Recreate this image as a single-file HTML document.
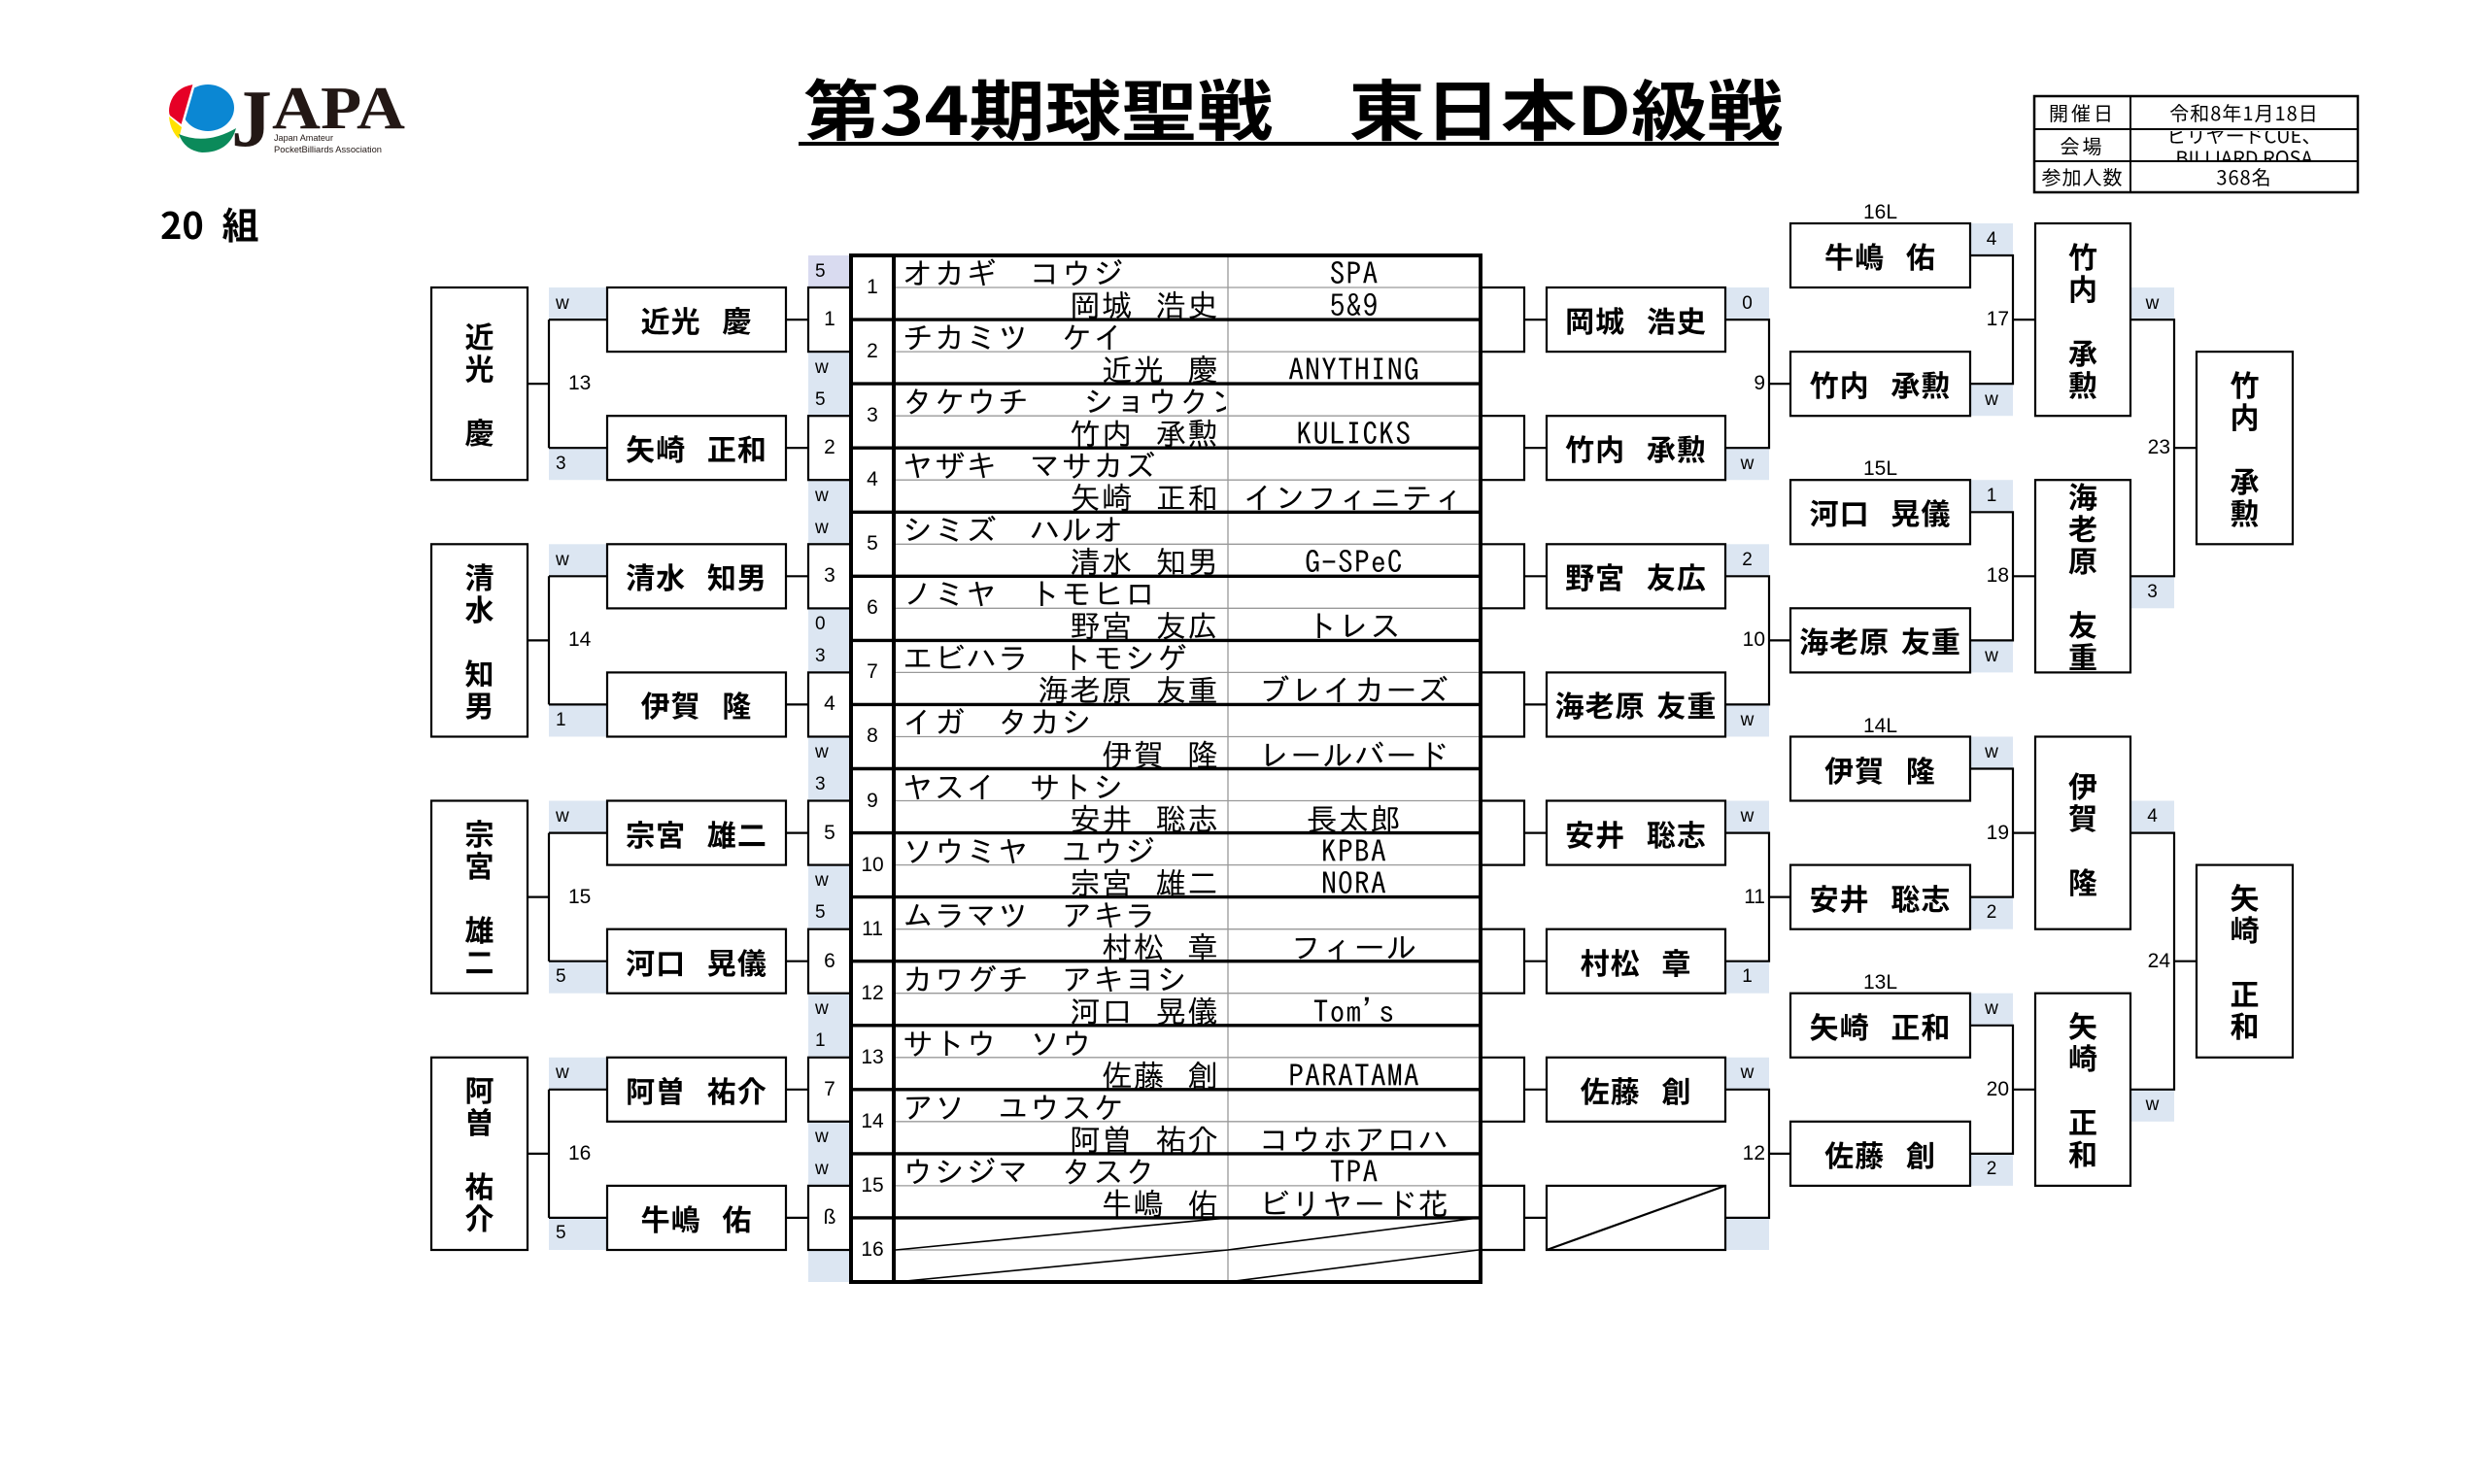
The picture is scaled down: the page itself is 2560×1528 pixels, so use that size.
<!DOCTYPE html>
<html><head><meta charset="utf-8">
<style>
html,body{margin:0;padding:0}
body{width:2560px;height:1528px;position:relative;background:#fff;overflow:hidden}
svg.g{position:absolute;left:0;top:0}
.c{position:absolute;display:flex;align-items:center;justify-content:center;white-space:nowrap}
.l{justify-content:flex-start}
.rr{justify-content:flex-end}
.nm{font-family:"Noto Sans CJK JP","Liberation Sans",sans-serif;font-weight:700;font-size:30px;letter-spacing:1px;word-spacing:14px;color:#000;line-height:1}
.vt{position:absolute;display:flex;flex-direction:column;align-items:center;justify-content:center;font-family:"Noto Sans CJK JP",sans-serif;font-weight:700;font-size:30px;color:#000}
.vt span{display:block;height:33px;line-height:33px}
.sc{font-family:"Liberation Sans",sans-serif;font-size:19px;color:#000}
.lb{font-family:"Liberation Sans",sans-serif;font-size:21px;color:#000}
.num{font-family:"Liberation Sans",sans-serif;font-size:21px;color:#000}
.tb{position:absolute;font-family:"IPAGothic","Noto Sans CJK JP",monospace;font-size:31.5px;letter-spacing:1.2px;word-spacing:6px;line-height:33px;height:33px;white-space:nowrap;overflow:hidden;color:#000}
.r{text-align:right}
.ct{text-align:center}
.info{font-family:"Noto Sans CJK JP","Liberation Sans",sans-serif;font-size:20px;color:#000;line-height:1}
</style></head><body>

<svg class="g" width="2560" height="1528" viewBox="0 0 2560 1528" xmlns="http://www.w3.org/2000/svg">
<!-- logo -->
<ellipse cx="214" cy="111" rx="27" ry="24" fill="#0b87d3"/>
<path d="M199 87 Q180 90 175 107 Q173 115 175 119 L188 129 Z" fill="#e60026"/>
<path d="M200 86 L187 131" stroke="#fff" stroke-width="2.5"/>
<path d="M174 120 L187 131 L184 143 Q175 134 174 120 Z" fill="#ffe100"/>
<path d="M184 138 Q212 150 243 132 Q236 157 208 157 Q190 155 184 138 Z" fill="#0b8a5a"/>
<text x="238" y="150" font-family="Liberation Serif" font-weight="bold" font-size="84" fill="#231815">J</text>
<text x="280" y="132" font-family="Liberation Serif" font-weight="bold" font-size="62" fill="#231815" textLength="137" lengthAdjust="spacingAndGlyphs">APA</text>
<text x="282" y="145" font-family="Liberation Sans" font-size="9.5" fill="#231815" textLength="61" lengthAdjust="spacingAndGlyphs">Japan Amateur</text>
<text x="282" y="157" font-family="Liberation Sans" font-size="9.5" fill="#231815" textLength="111" lengthAdjust="spacingAndGlyphs">PocketBilliards Association</text>

<!-- info table -->
<rect x="2094" y="99" width="333" height="99" fill="#fff" stroke="#000" stroke-width="2.5"/>
<path d="M2193 99V198 M2094 133H2427 M2094 166H2427" stroke="#000" stroke-width="2" fill="none"/>

<!-- shaded cells -->
<g fill="#dce6f2">
<rect x="832" y="263" width="44" height="1057"/>
<rect x="565" y="296" width="60" height="33.1"/><rect x="565" y="461.2" width="60" height="33"/>
<rect x="565" y="560.3" width="60" height="33"/><rect x="565" y="725.4" width="60" height="33.1"/>
<rect x="565" y="824.5" width="60" height="33.1"/><rect x="565" y="989.7" width="60" height="33"/>
<rect x="565" y="1088.8" width="60" height="33"/><rect x="565" y="1253.9" width="60" height="33.1"/>
<rect x="1776" y="296" width="45" height="33.1"/><rect x="1776" y="461.2" width="45" height="33"/>
<rect x="1776" y="560.3" width="45" height="33"/><rect x="1776" y="725.4" width="45" height="33.1"/>
<rect x="1776" y="824.5" width="45" height="33.1"/><rect x="1776" y="989.7" width="45" height="33"/>
<rect x="1776" y="1088.8" width="45" height="33"/><rect x="1776" y="1253.9" width="45" height="33.1"/>
<rect x="2028" y="230" width="44" height="33"/><rect x="2028" y="395.1" width="44" height="33.1"/>
<rect x="2028" y="494.2" width="44" height="33.1"/><rect x="2028" y="659.4" width="44" height="33"/>
<rect x="2028" y="758.5" width="44" height="33"/><rect x="2028" y="923.6" width="44" height="33.1"/>
<rect x="2028" y="1022.7" width="44" height="33.1"/><rect x="2028" y="1187.9" width="44" height="33"/>
<rect x="2193" y="296" width="45" height="33.1"/><rect x="2193" y="593.3" width="45" height="33"/>
<rect x="2193" y="824.5" width="45" height="33.1"/><rect x="2193" y="1121.8" width="45" height="33"/>
</g>
<rect x="832" y="263" width="44" height="33" fill="#d9dbf0"/>

<!-- boxes -->
<g fill="#fff" stroke="#000" stroke-width="2.2">
<rect x="444" y="296" width="99" height="198.2"/><rect x="444" y="560.3" width="99" height="198.2"/>
<rect x="444" y="824.5" width="99" height="198.2"/><rect x="444" y="1088.8" width="99" height="198.2"/>
<rect x="625" y="296" width="184" height="66.1"/><rect x="625" y="428.2" width="184" height="66"/>
<rect x="625" y="560.3" width="184" height="66.1"/><rect x="625" y="692.4" width="184" height="66.1"/>
<rect x="625" y="824.5" width="184" height="66.1"/><rect x="625" y="956.7" width="184" height="66"/>
<rect x="625" y="1088.8" width="184" height="66"/><rect x="625" y="1220.9" width="184" height="66.1"/>
<rect x="832" y="296" width="44" height="66.1"/><rect x="832" y="428.2" width="44" height="66"/>
<rect x="832" y="560.3" width="44" height="66.1"/><rect x="832" y="692.4" width="44" height="66.1"/>
<rect x="832" y="824.5" width="44" height="66.1"/><rect x="832" y="956.7" width="44" height="66"/>
<rect x="832" y="1088.8" width="44" height="66"/><rect x="832" y="1220.9" width="44" height="66.1"/>
<rect x="1592" y="296" width="184" height="66.1"/><rect x="1592" y="428.2" width="184" height="66"/>
<rect x="1592" y="560.3" width="184" height="66.1"/><rect x="1592" y="692.4" width="184" height="66.1"/>
<rect x="1592" y="824.5" width="184" height="66.1"/><rect x="1592" y="956.7" width="184" height="66"/>
<rect x="1592" y="1088.8" width="184" height="66"/><rect x="1592" y="1220.9" width="184" height="66.1"/>
<rect x="1843" y="362.1" width="185" height="66.1"/><rect x="1843" y="626.3" width="185" height="66.1"/>
<rect x="1843" y="890.6" width="185" height="66.1"/><rect x="1843" y="1154.8" width="185" height="66.1"/>
<rect x="1843" y="230" width="185" height="66"/><rect x="1843" y="494.2" width="185" height="66.1"/>
<rect x="1843" y="758.5" width="185" height="66"/><rect x="1843" y="1022.7" width="185" height="66.1"/>
<rect x="2095" y="230" width="98" height="198.2"/><rect x="2095" y="494.2" width="98" height="198.2"/>
<rect x="2095" y="758.5" width="98" height="198.2"/><rect x="2095" y="1022.7" width="98" height="198.2"/>
<rect x="2261" y="362.1" width="99" height="198.2"/><rect x="2261" y="890.6" width="99" height="198.2"/>
</g>

<!-- connectors -->
<path fill="none" stroke="#000" stroke-width="2.2" d="
M543 395.1H565 M565 329.1V461.2 M565 329.1H625 M565 461.2H625 M809 329.1H832 M809 461.2H832
M543 659.4H565 M565 593.3V725.4 M565 593.3H625 M565 725.4H625 M809 593.3H832 M809 725.4H832
M543 923.6H565 M565 857.6V989.7 M565 857.6H625 M565 989.7H625 M809 857.6H832 M809 989.7H832
M543 1187.9H565 M565 1121.8V1253.9 M565 1121.8H625 M565 1253.9H625 M809 1121.8H832 M809 1253.9H832
M1524 296H1569V362.1H1524 M1569 329.1H1592 M1524 428.2H1569V494.2H1524 M1569 461.2H1592
M1524 560.3H1569V626.3H1524 M1569 593.3H1592 M1524 692.4H1569V758.5H1524 M1569 725.4H1592
M1524 824.5H1569V890.6H1524 M1569 857.6H1592 M1524 956.7H1569V1022.7H1524 M1569 989.7H1592
M1524 1088.8H1569V1154.8H1524 M1569 1121.8H1592 M1524 1220.9H1569V1287H1524 M1569 1253.9H1592
M1776 329.1H1821V461.2H1776 M1821 395.1H1843
M1776 593.3H1821V725.4H1776 M1821 659.4H1843
M1776 857.6H1821V989.7H1776 M1821 923.6H1843
M1776 1121.8H1821V1253.9H1776 M1821 1187.9H1843
M2028 263H2072V395.1H2028 M2072 329.1H2095
M2028 527.3H2072V659.4H2028 M2072 593.3H2095
M2028 791.5H2072V923.6H2028 M2072 857.6H2095
M2028 1055.8H2072V1187.9H2028 M2072 1121.8H2095
M2193 329.1H2238V593.3H2193 M2238 461.2H2261
M2193 857.6H2238V1121.8H2193 M2238 989.7H2261
M1592 1287L1776 1220.9
"/>

<!-- main table -->
<path fill="none" stroke="#999" stroke-width="1.3" d="
M1264 263V1320
M920 296H1524 M920 362.1H1524 M920 428.2H1524 M920 494.2H1524
M920 560.3H1524 M920 626.3H1524 M920 692.4H1524 M920 758.5H1524
M920 824.5H1524 M920 890.6H1524 M920 956.7H1524 M920 1022.7H1524
M920 1088.8H1524 M920 1154.8H1524 M920 1220.9H1524 M920 1287H1524"/>
<path fill="none" stroke="#000" stroke-width="1.6" d="
M922 1287L1264 1253.9 M922 1320L1264 1287 M1264 1287L1522 1253.9 M1264 1320L1522 1287"/>
<path fill="none" stroke="#000" stroke-width="3.4" d="
M876 329.1H1524 M876 395.1H1524 M876 461.2H1524 M876 527.3H1524
M876 593.3H1524 M876 659.4H1524 M876 725.4H1524 M876 791.5H1524
M876 857.6H1524 M876 923.6H1524 M876 989.7H1524 M876 1055.8H1524
M876 1121.8H1524 M876 1187.9H1524 M876 1253.9H1524"/>
<path fill="none" stroke="#000" stroke-width="4" d="M920 263V1320"/>
<rect x="876" y="263" width="648" height="1057" fill="none" stroke="#000" stroke-width="4"/>
</svg>

<!-- title -->
<div style="position:absolute;left:827px;top:76px;font-family:'Noto Sans CJK JP',sans-serif;font-weight:700;font-size:68px;line-height:68px;white-space:nowrap;transform:scaleX(1.15);transform-origin:0 0;color:#000">第34期球聖戦　東日本D級戦</div>
<div style="position:absolute;left:822px;top:146px;width:1009px;height:4px;background:#000"></div>
<div style="position:absolute;left:165px;top:211px;font-family:'Noto Sans CJK JP',sans-serif;font-weight:700;font-size:38px;line-height:38px;word-spacing:10px;white-space:nowrap;color:#000">20 組</div>

<!-- info table text -->
<div class="c info" style="left:2094px;top:99px;width:99px;height:34px;letter-spacing:3px">開催日</div>
<div class="c info" style="left:2094px;top:133px;width:99px;height:33px;letter-spacing:3px">会場</div>
<div class="c info" style="left:2094px;top:166px;width:99px;height:32px;letter-spacing:1px">参加人数</div>
<div class="c info" style="left:2193px;top:99px;width:234px;height:34px;letter-spacing:1px">令和8年1月18日</div>
<div class="c info" style="left:2195px;top:135px;width:230px;height:30px;overflow:hidden;flex-direction:column;line-height:23px">
<div>ビリヤードCUE、</div><div>BILLIARD ROSA</div></div>
<div class="c info" style="left:2193px;top:166px;width:234px;height:32px;letter-spacing:1px">368名</div>

<!-- left vertical names -->
<div class="vt" style="left:444px;top:296px;width:99px;height:198px"><span>近</span><span>光</span><span></span><span>慶</span></div>
<div class="vt" style="left:444px;top:560.3px;width:99px;height:198px"><span>清</span><span>水</span><span></span><span>知</span><span>男</span></div>
<div class="vt" style="left:444px;top:824.5px;width:99px;height:198px"><span>宗</span><span>宮</span><span></span><span>雄</span><span>二</span></div>
<div class="vt" style="left:444px;top:1088.8px;width:99px;height:198px"><span>阿</span><span>曽</span><span></span><span>祐</span><span>介</span></div>

<!-- left names -->
<div class="c nm" style="left:625px;top:296px;width:184px;height:66px">近光 慶</div>
<div class="c nm" style="left:625px;top:428.2px;width:184px;height:66px">矢崎 正和</div>
<div class="c nm" style="left:625px;top:560.3px;width:184px;height:66px">清水 知男</div>
<div class="c nm" style="left:625px;top:692.4px;width:184px;height:66px">伊賀 隆</div>
<div class="c nm" style="left:625px;top:824.5px;width:184px;height:66px">宗宮 雄二</div>
<div class="c nm" style="left:625px;top:956.7px;width:184px;height:66px">河口 晃儀</div>
<div class="c nm" style="left:625px;top:1088.8px;width:184px;height:66px">阿曽 祐介</div>
<div class="c nm" style="left:625px;top:1220.9px;width:184px;height:66px">牛嶋 佑</div>

<!-- left scores -->
<div class="c l sc" style="left:572px;top:296px;height:33px">w</div>
<div class="c l sc" style="left:572px;top:461.2px;height:33px">3</div>
<div class="c l sc" style="left:572px;top:560.3px;height:33px">w</div>
<div class="c l sc" style="left:572px;top:725.4px;height:33px">1</div>
<div class="c l sc" style="left:572px;top:824.5px;height:33px">w</div>
<div class="c l sc" style="left:572px;top:989.7px;height:33px">5</div>
<div class="c l sc" style="left:572px;top:1088.8px;height:33px">w</div>
<div class="c l sc" style="left:572px;top:1253.9px;height:33px">5</div>
<div class="c l lb" style="left:585px;top:378.6px;height:33px">13</div>
<div class="c l lb" style="left:585px;top:642.9px;height:33px">14</div>
<div class="c l lb" style="left:585px;top:907.1px;height:33px">15</div>
<div class="c l lb" style="left:585px;top:1171.4px;height:33px">16</div>

<!-- table left column scores -->
<div class="c l sc" style="left:839px;top:263px;height:33px">5</div>
<div class="c l sc" style="left:839px;top:362.1px;height:33px">w</div>
<div class="c l sc" style="left:839px;top:395.1px;height:33px">5</div>
<div class="c l sc" style="left:839px;top:494.2px;height:33px">w</div>
<div class="c l sc" style="left:839px;top:527.3px;height:33px">w</div>
<div class="c l sc" style="left:839px;top:626.3px;height:33px">0</div>
<div class="c l sc" style="left:839px;top:659.4px;height:33px">3</div>
<div class="c l sc" style="left:839px;top:758.5px;height:33px">w</div>
<div class="c l sc" style="left:839px;top:791.5px;height:33px">3</div>
<div class="c l sc" style="left:839px;top:890.6px;height:33px">w</div>
<div class="c l sc" style="left:839px;top:923.6px;height:33px">5</div>
<div class="c l sc" style="left:839px;top:1022.7px;height:33px">w</div>
<div class="c l sc" style="left:839px;top:1055.8px;height:33px">1</div>
<div class="c l sc" style="left:839px;top:1154.8px;height:33px">w</div>
<div class="c l sc" style="left:839px;top:1187.9px;height:33px">w</div>

<!-- table left boxes -->
<div class="c num" style="left:832px;top:296px;width:44px;height:66px">1</div>
<div class="c num" style="left:832px;top:428.2px;width:44px;height:66px">2</div>
<div class="c num" style="left:832px;top:560.3px;width:44px;height:66px">3</div>
<div class="c num" style="left:832px;top:692.4px;width:44px;height:66px">4</div>
<div class="c num" style="left:832px;top:824.5px;width:44px;height:66px">5</div>
<div class="c num" style="left:832px;top:956.7px;width:44px;height:66px">6</div>
<div class="c num" style="left:832px;top:1088.8px;width:44px;height:66px">7</div>
<div class="c num" style="left:832px;top:1220.9px;width:44px;height:66px">ß</div>

<!-- table row numbers -->
<div class="c num" style="left:876px;top:263px;width:44px;height:66px">1</div>
<div class="c num" style="left:876px;top:329.1px;width:44px;height:66px">2</div>
<div class="c num" style="left:876px;top:395.1px;width:44px;height:66px">3</div>
<div class="c num" style="left:876px;top:461.2px;width:44px;height:66px">4</div>
<div class="c num" style="left:876px;top:527.3px;width:44px;height:66px">5</div>
<div class="c num" style="left:876px;top:593.3px;width:44px;height:66px">6</div>
<div class="c num" style="left:876px;top:659.4px;width:44px;height:66px">7</div>
<div class="c num" style="left:876px;top:725.4px;width:44px;height:66px">8</div>
<div class="c num" style="left:876px;top:791.5px;width:44px;height:66px">9</div>
<div class="c num" style="left:876px;top:857.6px;width:44px;height:66px">10</div>
<div class="c num" style="left:876px;top:923.6px;width:44px;height:66px">11</div>
<div class="c num" style="left:876px;top:989.7px;width:44px;height:66px">12</div>
<div class="c num" style="left:876px;top:1055.8px;width:44px;height:66px">13</div>
<div class="c num" style="left:876px;top:1121.8px;width:44px;height:66px">14</div>
<div class="c num" style="left:876px;top:1187.9px;width:44px;height:66px">15</div>
<div class="c num" style="left:876px;top:1253.9px;width:44px;height:66px">16</div>

<!-- table kana -->
<div class="tb" style="left:929px;top:265px;width:333px">オカギ　コウジ</div>
<div class="tb" style="left:929px;top:331.1px;width:333px">チカミツ　ケイ</div>
<div class="tb" style="left:929px;top:397.1px;width:333px">タケウチ　 ショウクン</div>
<div class="tb" style="left:929px;top:463.2px;width:333px">ヤザキ　マサカズ</div>
<div class="tb" style="left:929px;top:529.3px;width:333px">シミズ　ハルオ</div>
<div class="tb" style="left:929px;top:595.3px;width:333px">ノミヤ　トモヒロ</div>
<div class="tb" style="left:929px;top:661.4px;width:333px">エビハラ　トモシゲ</div>
<div class="tb" style="left:929px;top:727.4px;width:333px">イガ　タカシ</div>
<div class="tb" style="left:929px;top:793.5px;width:333px">ヤスイ　サトシ</div>
<div class="tb" style="left:929px;top:859.6px;width:333px">ソウミヤ　ユウジ</div>
<div class="tb" style="left:929px;top:925.6px;width:333px">ムラマツ　アキラ</div>
<div class="tb" style="left:929px;top:991.7px;width:333px">カワグチ　アキヨシ</div>
<div class="tb" style="left:929px;top:1057.8px;width:333px">サトウ　ソウ</div>
<div class="tb" style="left:929px;top:1123.8px;width:333px">アソ　ユウスケ</div>
<div class="tb" style="left:929px;top:1189.9px;width:333px">ウシジマ　タスク</div>

<!-- table kanji -->
<div class="tb r" style="left:920px;top:298px;width:335px">岡城 浩史</div>
<div class="tb r" style="left:920px;top:364.1px;width:335px">近光 慶</div>
<div class="tb r" style="left:920px;top:430.2px;width:335px">竹内 承勲</div>
<div class="tb r" style="left:920px;top:496.2px;width:335px">矢崎 正和</div>
<div class="tb r" style="left:920px;top:562.3px;width:335px">清水 知男</div>
<div class="tb r" style="left:920px;top:628.3px;width:335px">野宮 友広</div>
<div class="tb r" style="left:920px;top:694.4px;width:335px">海老原 友重</div>
<div class="tb r" style="left:920px;top:760.5px;width:335px">伊賀 隆</div>
<div class="tb r" style="left:920px;top:826.5px;width:335px">安井 聡志</div>
<div class="tb r" style="left:920px;top:892.6px;width:335px">宗宮 雄二</div>
<div class="tb r" style="left:920px;top:958.7px;width:335px">村松 章</div>
<div class="tb r" style="left:920px;top:1024.7px;width:335px">河口 晃儀</div>
<div class="tb r" style="left:920px;top:1090.8px;width:335px">佐藤 創</div>
<div class="tb r" style="left:920px;top:1156.8px;width:335px">阿曽 祐介</div>
<div class="tb r" style="left:920px;top:1222.9px;width:335px">牛嶋 佑</div>

<!-- table clubs -->
<div class="tb ct" style="left:1264px;top:265px;width:260px">SPA</div>
<div class="tb ct" style="left:1264px;top:298px;width:260px">5&amp;9</div>
<div class="tb ct" style="left:1264px;top:364.1px;width:260px">ANYTHING</div>
<div class="tb ct" style="left:1264px;top:430.2px;width:260px">KULICKS</div>
<div class="tb ct" style="left:1264px;top:496.2px;width:260px">インフィニティ</div>
<div class="tb ct" style="left:1264px;top:562.3px;width:260px">G-SPeC</div>
<div class="tb ct" style="left:1264px;top:628.3px;width:260px">トレス</div>
<div class="tb ct" style="left:1264px;top:694.4px;width:260px">ブレイカーズ</div>
<div class="tb ct" style="left:1264px;top:760.5px;width:260px">レールバード</div>
<div class="tb ct" style="left:1264px;top:826.5px;width:260px">長太郎</div>
<div class="tb ct" style="left:1264px;top:859.6px;width:260px">KPBA</div>
<div class="tb ct" style="left:1264px;top:892.6px;width:260px">NORA</div>
<div class="tb ct" style="left:1264px;top:958.7px;width:260px">フィール</div>
<div class="tb ct" style="left:1264px;top:1024.7px;width:260px">Tom's</div>
<div class="tb ct" style="left:1264px;top:1090.8px;width:260px">PARATAMA</div>
<div class="tb ct" style="left:1264px;top:1156.8px;width:260px">コウホアロハ</div>
<div class="tb ct" style="left:1264px;top:1189.9px;width:260px">TPA</div>
<div class="tb ct" style="left:1264px;top:1222.9px;width:260px">ビリヤード花</div>

<!-- right round 1 names -->
<div class="c nm" style="left:1592px;top:296px;width:184px;height:66px">岡城 浩史</div>
<div class="c nm" style="left:1592px;top:428.2px;width:184px;height:66px">竹内 承勲</div>
<div class="c nm" style="left:1592px;top:560.3px;width:184px;height:66px">野宮 友広</div>
<div class="c nm" style="left:1592px;top:692.4px;width:184px;height:66px;word-spacing:4px">海老原 友重</div>
<div class="c nm" style="left:1592px;top:824.5px;width:184px;height:66px">安井 聡志</div>
<div class="c nm" style="left:1592px;top:956.7px;width:184px;height:66px">村松 章</div>
<div class="c nm" style="left:1592px;top:1088.8px;width:184px;height:66px">佐藤 創</div>

<!-- right round 1 scores and labels -->
<div class="c sc" style="left:1776px;top:296px;width:45px;height:33px">0</div>
<div class="c sc" style="left:1776px;top:461.2px;width:45px;height:33px">w</div>
<div class="c sc" style="left:1776px;top:560.3px;width:45px;height:33px">2</div>
<div class="c sc" style="left:1776px;top:725.4px;width:45px;height:33px">w</div>
<div class="c sc" style="left:1776px;top:824.5px;width:45px;height:33px">w</div>
<div class="c sc" style="left:1776px;top:989.7px;width:45px;height:33px">1</div>
<div class="c sc" style="left:1776px;top:1088.8px;width:45px;height:33px">w</div>
<div class="c rr lb" style="left:1757px;top:378.6px;width:60px;height:33px">9</div>
<div class="c rr lb" style="left:1757px;top:642.9px;width:60px;height:33px">10</div>
<div class="c rr lb" style="left:1757px;top:907.1px;width:60px;height:33px">11</div>
<div class="c rr lb" style="left:1757px;top:1171.4px;width:60px;height:33px">12</div>

<!-- winners / losers -->
<div class="c nm" style="left:1843px;top:362.1px;width:185px;height:66px">竹内 承勲</div>
<div class="c nm" style="left:1843px;top:626.3px;width:185px;height:66px;word-spacing:4px">海老原 友重</div>
<div class="c nm" style="left:1843px;top:890.6px;width:185px;height:66px">安井 聡志</div>
<div class="c nm" style="left:1843px;top:1154.8px;width:185px;height:66px">佐藤 創</div>
<div class="c nm" style="left:1843px;top:230px;width:185px;height:66px">牛嶋 佑</div>
<div class="c nm" style="left:1843px;top:494.2px;width:185px;height:66px">河口 晃儀</div>
<div class="c nm" style="left:1843px;top:758.5px;width:185px;height:66px">伊賀 隆</div>
<div class="c nm" style="left:1843px;top:1022.7px;width:185px;height:66px">矢崎 正和</div>
<div class="c lb" style="left:1843px;top:205px;width:185px;height:28px">16L</div>
<div class="c lb" style="left:1843px;top:469.2px;width:185px;height:28px">15L</div>
<div class="c lb" style="left:1843px;top:733.5px;width:185px;height:28px">14L</div>
<div class="c lb" style="left:1843px;top:997.7px;width:185px;height:28px">13L</div>

<div class="c sc" style="left:2028px;top:230px;width:44px;height:33px">4</div>
<div class="c sc" style="left:2028px;top:395.1px;width:44px;height:33px">w</div>
<div class="c sc" style="left:2028px;top:494.2px;width:44px;height:33px">1</div>
<div class="c sc" style="left:2028px;top:659.4px;width:44px;height:33px">w</div>
<div class="c sc" style="left:2028px;top:758.5px;width:44px;height:33px">w</div>
<div class="c sc" style="left:2028px;top:923.6px;width:44px;height:33px">2</div>
<div class="c sc" style="left:2028px;top:1022.7px;width:44px;height:33px">w</div>
<div class="c sc" style="left:2028px;top:1187.9px;width:44px;height:33px">2</div>
<div class="c rr lb" style="left:2008px;top:312.6px;width:60px;height:33px">17</div>
<div class="c rr lb" style="left:2008px;top:576.8px;width:60px;height:33px">18</div>
<div class="c rr lb" style="left:2008px;top:841.1px;width:60px;height:33px">19</div>
<div class="c rr lb" style="left:2008px;top:1105.3px;width:60px;height:33px">20</div>

<!-- right vertical names -->
<div class="vt" style="left:2095px;top:230px;width:98px;height:198px"><span>竹</span><span>内</span><span></span><span>承</span><span>勲</span></div>
<div class="vt" style="left:2095px;top:494.2px;width:98px;height:198px"><span>海</span><span>老</span><span>原</span><span></span><span>友</span><span>重</span></div>
<div class="vt" style="left:2095px;top:758.5px;width:98px;height:198px"><span>伊</span><span>賀</span><span></span><span>隆</span></div>
<div class="vt" style="left:2095px;top:1022.7px;width:98px;height:198px"><span>矢</span><span>崎</span><span></span><span>正</span><span>和</span></div>

<div class="c sc" style="left:2193px;top:296px;width:45px;height:33px">w</div>
<div class="c sc" style="left:2193px;top:593.3px;width:45px;height:33px">3</div>
<div class="c sc" style="left:2193px;top:824.5px;width:45px;height:33px">4</div>
<div class="c sc" style="left:2193px;top:1121.8px;width:45px;height:33px">w</div>
<div class="c rr lb" style="left:2174px;top:444.7px;width:60px;height:33px">23</div>
<div class="c rr lb" style="left:2174px;top:973.2px;width:60px;height:33px">24</div>

<!-- finals -->
<div class="vt" style="left:2261px;top:362.1px;width:99px;height:198px"><span>竹</span><span>内</span><span></span><span>承</span><span>勲</span></div>
<div class="vt" style="left:2261px;top:890.6px;width:99px;height:198px"><span>矢</span><span>崎</span><span></span><span>正</span><span>和</span></div>

</body></html>
